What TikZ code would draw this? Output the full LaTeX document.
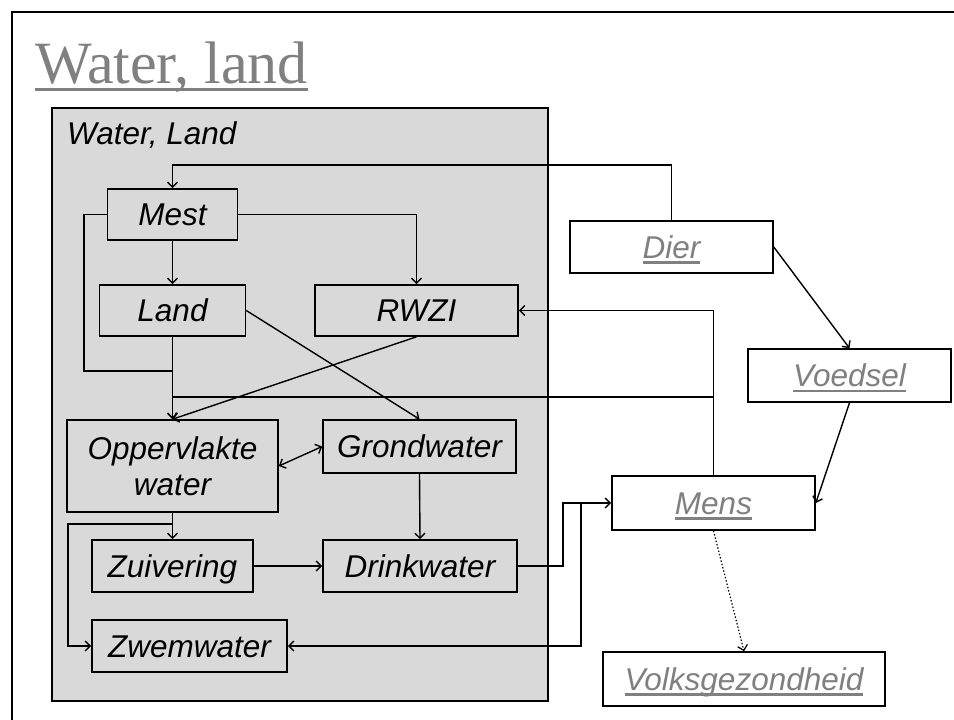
\documentclass[tikz,border=0pt]{standalone}
\usepackage{fontspec}
\setmainfont{Liberation Sans}
\newfontfamily\titlefont{Liberation Serif}
\usetikzlibrary{arrows.meta}

\definecolor{panelfill}{RGB}{217,217,217}
\definecolor{linkgray}{RGB}{128,128,128}

% underlined text with the rule at a fixed depth below the baseline
\newsavebox\ulbox
\newcommand\ulined[3]{\sbox\ulbox{#3}\rlap{\rule[#1]{\wd\ulbox}{#2}}\usebox\ulbox}
\newcommand\linkword[1]{\ulined{-5.4pt}{2.4pt}{#1}}

\begin{document}
\begin{tikzpicture}[x=1pt,y=-1pt,
  labelfont/.style={font=\fontsize{31.5}{36}\selectfont\itshape},
  box/.style={draw=black, line width=1.6pt, inner sep=0pt, labelfont,
              text height=22.6pt, text depth=0pt},
  inbox/.style={box, fill=panelfill},
  outbox/.style={box, fill=white, text=linkgray},
  link/.style={line width=1.4pt, -{Straight Barb[length=5pt,width=10pt]}},
  plain/.style={line width=1.4pt}]

\useasboundingbox (0,0) rectangle (954,720);

% slide frame
\draw[line width=2.5pt] (12,720) -- (12,12) -- (954,12);

% slide title
\node[anchor=base west, inner sep=0pt, text=linkgray,
      font=\titlefont\fontsize{60}{66}\selectfont] (title) at (35,83)
      {\ulined{-8pt}{3pt}{Water, land}};

% grey panel
\node[draw=black, line width=1.6pt, fill=panelfill, inner sep=0pt,
      minimum width=496pt, minimum height=593pt] (panel) at (300,404.5) {};
\node[anchor=base west, inner sep=0pt, labelfont] (paneltitle) at (67,144) {Water, Land};

% nodes inside the panel
\node[inbox, minimum width=130pt, minimum height=51pt] (mest)  at (172.5,214.5) {Mest};
\node[inbox, minimum width=146pt, minimum height=51pt] (land)  at (172.5,310.5) {Land};
\node[inbox, minimum width=203pt, minimum height=51pt] (rwzi)  at (416.5,310.5) {RWZI};
\node[draw=black, line width=1.6pt, inner sep=0pt, labelfont, fill=panelfill,
      align=center, minimum width=211pt, minimum height=92pt] (opp) at (172.5,466)
      {Oppervlakte\\water};
\node[inbox, minimum width=193pt, minimum height=53pt] (grond) at (419.5,446.5) {Grondwater};
\node[inbox, minimum width=161pt, minimum height=52pt] (zuiv)  at (172.5,566) {Zuivering};
\node[inbox, minimum width=194pt, minimum height=52pt] (drink) at (420,566) {Drinkwater};
\node[inbox, minimum width=195pt, minimum height=52pt] (zwem)  at (189.5,646) {Zwemwater};

% nodes outside the panel
\node[outbox, minimum width=203pt, minimum height=52pt] (dier)  at (671.5,247) {\linkword{Dier}};
\node[outbox, minimum width=203pt, minimum height=53pt] (voed)  at (849.5,375.5) {\linkword{Voedsel}};
\node[outbox, minimum width=203pt, minimum height=54pt] (mens)  at (713.5,503) {\linkword{Mens}};
\node[outbox, minimum width=282pt, minimum height=54pt] (volks) at (744,679) {\linkword{Volksgezondheid}};

% routing points
\coordinate (topbus) at (172.5,165);
\coordinate (mloop)  at (84,371);
\coordinate (joinA)  at (172.5,371);
\coordinate (midbus) at (713.5,397);
\coordinate (zbranch) at (172.5,524);
\coordinate (zleft)  at (68,524);
\coordinate (dstep)  at (563,503);
\coordinate (zstep)  at (581,503);

% connectors
\draw[link] (dier.north) |- (topbus) -- (mest.north);
\draw[link] (mest.south) -- (land.north);
\draw[link] (mest.east) -| (rwzi.north);
\draw[plain] (mest.west) -| (mloop) -- (joinA);
\draw[link] (land.south) -- (opp.north);
\draw[link] (land.east) -- (grond.north);
\draw[link] (rwzi.south) -- (opp.north);
\draw[link] (mens.north) |- (rwzi.east);
\draw[link] (midbus) -| (opp.north);
\draw[line width=1.4pt, {Straight Barb[length=5pt,width=10pt]}-{Straight Barb[length=5pt,width=10pt]}]
      (opp.east) -- (grond.west);
\draw[link] (grond.south) -- (drink.north);
\draw[link] (opp.south) -- (zuiv.north);
\draw[link] (zbranch) -- (zleft) |- (zwem.west);
\draw[link] (zuiv.east) -- (drink.west);
\draw[link] (drink.east) -| (dstep) -- (mens.west);
\draw[link] (zstep) |- (zwem.east);
\draw[link] (dier.east) -- (voed.north);
\draw[link] (voed.south) -- (mens.east);
\draw[link, dotted, line width=1.2pt] (mens.south) -- (volks.north);

\end{tikzpicture}
\end{document}
